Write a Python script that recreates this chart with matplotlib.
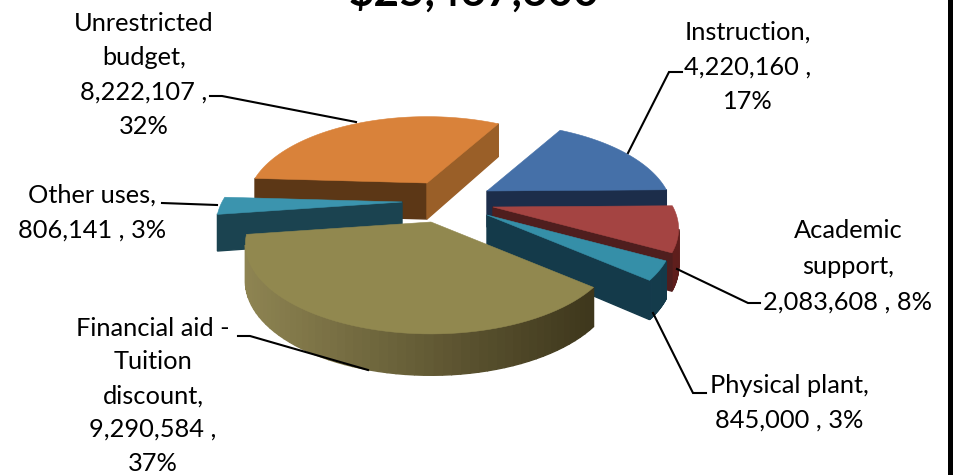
import numpy as np
import matplotlib
matplotlib.use("Agg")
from matplotlib import pyplot as plt
from matplotlib.colors import to_rgb

plt.rcParams['font.family'] = ['Lato', 'DejaVu Sans']

# budget figures, clockwise from the top right
names = ["Instruction", "Academic support", "Physical plant",
         "Financial aid - Tuition discount", "Other uses", "Unrestricted budget"]
amounts = [4220160, 2083608, 845000, 9290584, 806141, 8222107]
percents = ["17%", "8%", "3%", "37%", "3%", "32%"]
total_title = "$25,467,600"

# pie geometry, in pixels
START_ANGLE = 60.5
RADIUS_X = 180.0
RADIUS_Y = 84.6
PERSPECTIVE = 0.244
DEPTH = 36.0
LABEL_SIZE = 18.3

# where each exploded slice has its tip
tips = [(487, 191), (493, 207), (487, 215), (431, 222), (402, 202), (427, 183)]
sizes = [1.0, 1.0, 1.0, 1.0, 1.0, 0.97]

# top, start cut, end cut, rim at left, rim at right
slice_colors = [
    ("#4570a8", "#1c2d4a", "#1c2d4a", "#1c2d4a", "#1c2d4a"),
    ("#a44442", "#4f1e1e", "#4f1e1e", "#7e2c2a", "#5e1e1c"),
    ("#358fa8", "#143a4a", "#143a4a", "#1a4a5c", "#143a4a"),
    ("#91884f", "#4a4322", "#8b8150", "#8e8452", "#3e371c"),
    ("#3b94ae", "#1b4350", "#1b4350", "#1b4350", "#1b4350"),
    ("#d9823a", "#5c3716", "#9a5f28", "#9a5f28", "#9a5f28"),
]

# painter's order, back of the pie first
draw_order = [5, 4, 0, 1, 2, 3]


def project(tip, angle, radius):
    """ground-plane point -> screen pixels, far side squeezed by perspective"""
    u = radius * np.cos(np.radians(angle))
    v = radius * np.sin(np.radians(angle))
    w = 1 + PERSPECTIVE * v
    return tip[0] + RADIUS_X * u / w, tip[1] - RADIUS_Y * v / w, DEPTH / np.sqrt(w)


def mix(c1, c2, t):
    c1, c2 = np.array(to_rgb(c1)), np.array(to_rgb(c2))
    return tuple(c1 + (c2 - c1) * t)


def draw_slice(ax, tip, size, a0, a1, colors):
    top_c, cut0_c, cut1_c, rim_l, rim_r = colors
    pts = [project(tip, 0, 0)] + [project(tip, a, size) for a in np.linspace(a0, a1, 60)]
    n = len(pts)
    xs = [p[0] for p in pts]
    for i in range(n):
        p, q = pts[i], pts[(i + 1) % n]
        # outline runs clockwise, so only edges heading left face the viewer
        if q[0] >= p[0]:
            continue
        if i == 0:
            c = cut0_c
        elif i == n - 1:
            c = cut1_c
        else:
            c = mix(rim_l, rim_r, (p[0] - min(xs)) / (max(xs) - min(xs)))
        ax.fill([p[0], q[0], q[0], p[0]],
                [p[1], q[1], q[1] + q[2], p[1] + p[2]], color=c, lw=1.0, zorder=2)
    ax.fill(xs, [p[1] for p in pts], color=top_c, lw=0.4, zorder=2)


def put_label(ax, lines, cx, first_y, step=34.3):
    for k, line in enumerate(lines):
        ax.text(cx, first_y + k * step, line, ha="center", va="baseline",
                fontsize=LABEL_SIZE, color="black", zorder=4)


fig = plt.figure(figsize=(9.54, 4.75), dpi=100)
ax = fig.add_axes([0, 0, 1, 1])
ax.set_xlim(0, 954)
ax.set_ylim(475, 0)
ax.axis("off")

# slice spans come straight from the amounts
spans = np.array(amounts) / sum(amounts) * 360
ends = START_ANGLE - np.cumsum(spans)
starts = ends + spans

for i in draw_order:
    draw_slice(ax, tips[i], sizes[i], starts[i], ends[i], slice_colors[i])

# leader lines
leaders = [
    ([682, 669, 628], [72, 72, 153]),
    ([760, 748, 677], [303, 303, 269]),
    ([706, 693, 653], [393, 393, 313]),
    ([238, 250, 368], [336, 336, 370]),
    ([162, 217], [203, 205]),
    ([210, 222, 356], [96, 96, 122]),
]
for lx, ly in leaders:
    ax.plot(lx, ly, color="black", lw=1.5, zorder=3, solid_joinstyle="miter")


def amount_str(v):
    return f"{v:,}"


put_label(ax, ["Instruction,", amount_str(amounts[0]) + " ,", percents[0]], 748, 40)
put_label(ax, ["Academic", "support,", amount_str(amounts[1]) + " , " + percents[1]], 848, 238, 36)
put_label(ax, ["Physical plant,", amount_str(amounts[2]) + " , " + percents[2]], 789, 393, 35)
put_label(ax, ["Financial aid -", "Tuition", "discount,", amount_str(amounts[3]) + " ,", percents[3]], 153, 335.5, 33.8)
put_label(ax, ["Other uses,", amount_str(amounts[4]) + " , " + percents[4]], 92, 203, 35)
put_label(ax, ["Unrestricted", "budget,", amount_str(amounts[5]) + " ,", percents[5]], 144, 31)

# title runs off the top edge
ax.text(474, 6, total_title, ha="center", va="baseline", fontsize=31.8,
        fontweight="bold", color="black", zorder=4)

# frame piece down the right side
ax.axvspan(948, 954, color="black", lw=0, zorder=5)

fig.savefig("out.png", dpi=100)
